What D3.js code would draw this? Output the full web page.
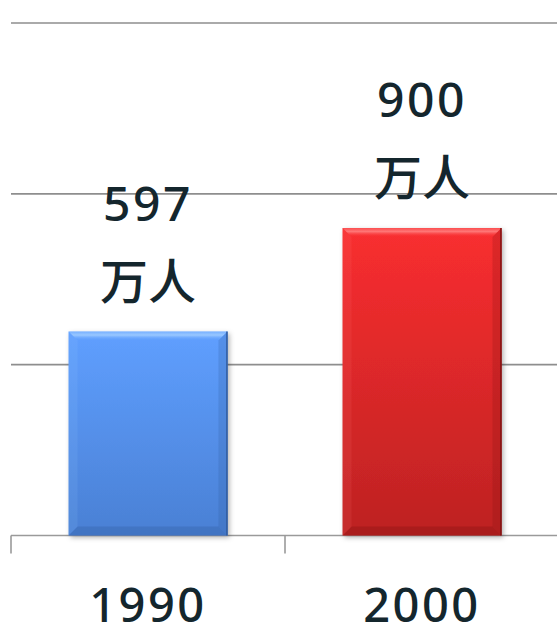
<!DOCTYPE html>
<html>
<head>
<meta charset="utf-8">
<script src="https://cdn.jsdelivr.net/npm/d3@7"></script>
<style>
  html, body { margin: 0; padding: 0; background: #ffffff; }
  svg { display: block; }
</style>
</head>
<body>
<svg id="chart" width="557" height="629"></svg>
<script>
// Population (万人) by year
const years = ["1990", "2000"];
const population = [597, 900];
const unitLabel = "万人";
const gridValues = [0, 500, 1000, 1500];
const barColors = [
  { top: "#5f9fff", bottom: "#4a80d4", light: "#9ccaff", dark: "#2f5a9c" },
  { top: "#f92e30", bottom: "#bd2222", light: "#ff7a7a", dark: "#7e1212" }
];

const W = 557, H = 629;
const svg = d3.select("#chart");
const defs = svg.append("defs");

const x = d3.scaleBand()
  .domain(years)
  .range([11, 559])
  .paddingInner(0.42)
  .paddingOuter(0.21);

const y = d3.scaleLinear()
  .domain([0, 1500])
  .range([535.5, 23]);

const textColor = "#14262d";
const digitFont = "'Noto Sans', 'Open Sans', sans-serif";
const cjkFont = "'Noto Sans CJK SC', sans-serif";

// gridlines
svg.append("g")
  .selectAll("line")
  .data(gridValues.slice(1))
  .join("line")
  .attr("x1", 11).attr("x2", W)
  .attr("y1", d => y(d)).attr("y2", d => y(d))
  .attr("stroke", "#8e8e8e")
  .attr("stroke-width", 1.6);

// category axis with outer ticks on band edges
const axisG = svg.append("g");
axisG.append("line")
  .attr("x1", 11).attr("x2", W)
  .attr("y1", y(0)).attr("y2", y(0))
  .attr("stroke", "#9a9a9a").attr("stroke-width", 1.6);
const edges = years.map(d => x(d) - x.step() * x.paddingOuter());
edges.push(edges[edges.length - 1] + x.step());
axisG.selectAll("line.tick")
  .data(edges)
  .join("line")
  .attr("class", "tick")
  .attr("x1", d => d).attr("x2", d => d)
  .attr("y1", y(0)).attr("y2", y(0) + 18)
  .attr("stroke", "#9a9a9a").attr("stroke-width", 1.6);

axisG.selectAll("text")
  .data(years)
  .join("text")
  .attr("x", d => x(d) + x.bandwidth() / 2)
  .attr("y", 622)
  .attr("text-anchor", "middle")
  .attr("font-family", digitFont)
  .attr("font-size", 47)
  .attr("font-weight", 500)
  .attr("letter-spacing", 2.5)
  .attr("fill", textColor)
  .text(d => d);

// shadow filter for bars
const shadow = defs.append("filter").attr("id", "barShadow")
  .attr("x", "-10%").attr("y", "-10%").attr("width", "125%").attr("height", "125%");
shadow.append("feDropShadow")
  .attr("dx", 2).attr("dy", 2).attr("stdDeviation", 2.5)
  .attr("flood-color", "#000").attr("flood-opacity", 0.3);

// bars with bevelled edges
const bevel = 9;
years.forEach((yr, i) => {
  const c = barColors[i];
  const gid = "barGrad" + i;
  const g = defs.append("linearGradient").attr("id", gid)
    .attr("x1", 0).attr("y1", 0).attr("x2", 0).attr("y2", 1);
  g.append("stop").attr("offset", "0%").attr("stop-color", c.top);
  g.append("stop").attr("offset", "100%").attr("stop-color", c.bottom);

  const tg = defs.append("linearGradient").attr("id", "topGrad" + i)
    .attr("x1", 0).attr("y1", 0).attr("x2", 0).attr("y2", 1);
  tg.append("stop").attr("offset", "0%").attr("stop-color", c.light).attr("stop-opacity", 0.4);
  tg.append("stop").attr("offset", "40%").attr("stop-color", c.light).attr("stop-opacity", 0.95);
  tg.append("stop").attr("offset", "100%").attr("stop-color", c.top).attr("stop-opacity", 0);

  const x0 = x(yr), x1 = x0 + x.bandwidth();
  const y0 = y(population[i]), y1 = y(0);
  const bg = svg.append("g");

  bg.append("rect")
    .attr("x", x0).attr("y", y0)
    .attr("width", x1 - x0).attr("height", y1 - y0)
    .attr("fill", `url(#${gid})`)
    .attr("filter", "url(#barShadow)");

  const poly = pts => pts.map(p => p.join(",")).join(" ");
  // top bevel
  bg.append("polygon")
    .attr("points", poly([[x0, y0], [x1, y0], [x1 - bevel, y0 + bevel], [x0 + bevel, y0 + bevel]]))
    .attr("fill", `url(#topGrad${i})`);
  // left bevel
  bg.append("polygon")
    .attr("points", poly([[x0, y0], [x0 + bevel, y0 + bevel], [x0 + bevel, y1 - bevel], [x0, y1]]))
    .attr("fill", c.light).attr("fill-opacity", 0.12);
  // right bevel
  bg.append("polygon")
    .attr("points", poly([[x1, y0], [x1, y1], [x1 - bevel, y1 - bevel], [x1 - bevel, y0 + bevel]]))
    .attr("fill", c.dark).attr("fill-opacity", 0.22);
  // bottom bevel
  bg.append("polygon")
    .attr("points", poly([[x0, y1], [x0 + bevel, y1 - bevel], [x1 - bevel, y1 - bevel], [x1, y1]]))
    .attr("fill", c.dark).attr("fill-opacity", 0.3);
  // dark outer edge on the right
  bg.append("line")
    .attr("x1", x1 - 0.5).attr("x2", x1 - 0.5)
    .attr("y1", y0).attr("y2", y1)
    .attr("stroke", c.dark).attr("stroke-width", 1.5);
});

// value labels above bars (number on first line, unit below)
const labels = svg.append("g");
years.forEach((yr, i) => {
  const cx = x(yr) + x.bandwidth() / 2;
  const top = y(population[i]);
  labels.append("text")
    .attr("x", cx).attr("y", top - 111)
    .attr("text-anchor", "middle")
    .attr("font-family", digitFont)
    .attr("font-size", 48)
    .attr("font-weight", 500)
    .attr("letter-spacing", 2.5)
    .attr("fill", textColor)
    .text(population[i]);
  labels.append("text")
    .attr("x", cx).attr("y", top - 33)
    .attr("text-anchor", "middle")
    .attr("font-family", cjkFont)
    .attr("font-size", 48)
    .attr("font-weight", 500)
    .attr("fill", textColor)
    .text(unitLabel);
});
</script>
</body>
</html>
